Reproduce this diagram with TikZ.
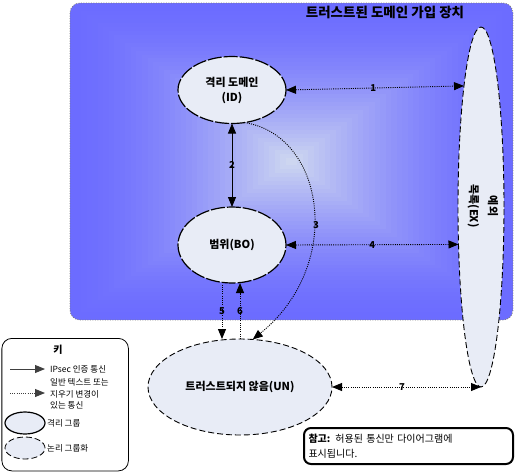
\documentclass[tikz,border=0pt]{standalone}
\usepackage{fontspec}
\setmainfont{Noto Sans CJK KR}
\usetikzlibrary{shapes.geometric,arrows.meta}
\definecolor{grpfill}{RGB}{232,236,246}
\definecolor{bgout}{RGB}{108,108,255}
\definecolor{bgin}{RGB}{205,214,240}
\begin{document}
\begin{tikzpicture}[x=1pt,y=-1pt,
  tip/.style={-{Triangle[length=10pt,width=8pt]}},
  tips/.style={{Triangle[length=10pt,width=8pt]}-{Triangle[length=10pt,width=8pt]}},
  dotline/.style={line width=0.9pt, dash pattern=on 1pt off 1.2pt},
  solidline/.style={line width=0.9pt},
  isogrp/.style={ellipse, draw, fill=grpfill, line width=1.2pt, dash pattern=on 14pt off 2pt,
     inner sep=0pt, outer sep=0pt, align=center, font=\bfseries\fontsize{11}{15}\selectfont},
  loggrp/.style={ellipse, draw, fill=grpfill, line width=0.9pt, dash pattern=on 6pt off 3pt,
     inner sep=0pt, outer sep=0pt, align=center, font=\bfseries\fontsize{11}{15}\selectfont},
  num/.style={font=\bfseries\fontsize{9.5}{11}\selectfont, inner sep=0pt},
  keytext/.style={anchor=west, align=left, inner sep=0pt, font=\fontsize{8.5}{11.5}\selectfont}
]
\useasboundingbox (0,0) rectangle (515,472);
% background gradient box
\begin{scope}
\clip[rounded corners=10pt] (70,3) rectangle (513,320);
\foreach \i in {0,...,39}{
  \pgfmathsetmacro{\f}{1-\i/40}
  \pgfmathsetmacro{\p}{(\i/39)^1.6*100}
  \fill[bgin!\p!bgout] ({291.5-221.5*\f},{161.5-158.5*\f}) rectangle ({291.5+221.5*\f},{161.5+158.5*\f});
}
\end{scope}
\draw[gray, line width=0.8pt, dash pattern=on 1pt off 1.5pt, rounded corners=10pt] (70,3) rectangle (513,320);
\node[font=\bfseries\fontsize{13.5}{15}\selectfont, inner sep=0pt] (title) at (385,12) {트러스트된 도메인 가입 장치};

% groups
\node[isogrp, minimum width=108pt, minimum height=67pt] (ID) at (232,90) {격리 도메인\\(ID)};
\node[isogrp, minimum width=108pt, minimum height=76pt] (BO) at (232,245) {범위(BO)};
\node[loggrp, minimum width=184pt, minimum height=96pt] (UN) at (240,387) {트러스트되지 않음(UN)};
\node[loggrp, minimum width=46pt, minimum height=360pt] (EX) at (481,207) {};
\node[rotate=-90, align=center, inner sep=0pt, font=\bfseries\fontsize{11}{19}\selectfont] (EXt) at (483,206) {예외\\목록(EX)};

% connectors
\draw[dotline, tips] (ID.east) -- (EX.98.5) node[num, pos=0.49] (n1) {1};
\draw[solidline, tips] (ID.south) -- (BO.north) node[num, midway] (n2) {2};
\draw[dotline, tip] (ID.291.8) .. controls (325,135) and (345,265) .. (UN.75.8);
\node[num] (n3) at (316,225) {3};
\draw[dotline, tips] (BO.east) -- (EX.239.4) node[num, pos=0.5] (n4) {4};
\draw[dotline, tip] (BO.255) -- (BO.255 |- UN.north) node[num, midway] (n5) {5};
\draw[dotline, tip] (UN.north) -- (UN.north |- BO.south) node[num, midway] (n6) {6};
\draw[dotline, tips] (UN.east) -- (EX.south) node[num, pos=0.47] (n7) {7};

% key
\node[draw, line width=0.8pt, rounded corners=10pt, minimum width=126.5pt, minimum height=132.5pt, inner sep=0pt, anchor=north west] (key) at (1.5,338) {};
\node[font=\bfseries\fontsize{10}{12}\selectfont, inner sep=0pt] (keyt) at (58,350) {키};
\coordinate (a1s) at (10,369);
\coordinate (a1e) at (45,369);
\draw[solidline, draw=black!75, tip] (a1s) -- (a1e);
\node[keytext] (k1) at (50,369) {IPsec 인증 통신};
\coordinate (a2s) at (10,393);
\coordinate (a2e) at (45,393);
\draw[dotline, draw=black!75, tip] (a2s) -- (a2e);
\node[keytext] (k2) at (50,394) {일반 텍스트 또는\\지우기 변경이\\있는 통신};
\node[ellipse, draw, fill=grpfill, line width=1.2pt, minimum width=40pt, minimum height=22pt, inner sep=0pt] (ke1) at (25,423) {};
\node[keytext] (k3) at (47,423) {격리 그룹};
\node[ellipse, draw, fill=grpfill, line width=0.8pt, dash pattern=on 6pt off 3pt, minimum width=40pt, minimum height=22pt, inner sep=0pt] (ke2) at (25,448) {};
\node[keytext] (k4) at (47,448) {논리 그룹화};

% note
\node[draw, line width=2pt, rounded corners=7pt, fill=white, anchor=north west, minimum width=209pt, minimum height=36pt,
      text width=200pt, inner xsep=4.5pt, inner ysep=2pt, align=left, font=\fontsize{10}{15}\selectfont] (note) at (303,427)
      {{\bfseries 참고:} 허용된 통신만 다이어그램에\\표시됩니다.};
\end{tikzpicture}
\end{document}
